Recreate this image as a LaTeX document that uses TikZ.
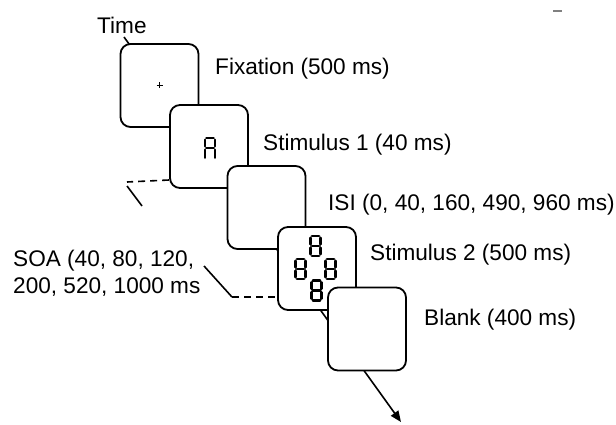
\documentclass[tikz,border=0pt]{standalone}
\usepackage{fontspec}
\setmainfont{Liberation Sans}
\usetikzlibrary{arrows.meta}

\tikzset{
  frame/.style={draw=black, line width=1.8pt, fill=white, rounded corners=10pt,
                inner sep=0pt, minimum width=78pt, minimum height=83pt},
  caption/.style={anchor=base west, inner sep=0pt, font=\fontsize{22.6}{27}\selectfont},
  seg/.style={line width=2.5pt, line cap=round},
  guide/.style={line width=1.6pt},
  guidedash/.style={line width=1.6pt, dash pattern=on 7pt off 5pt},
  % seven-segment glyphs, centred on the pic origin
  pics/seveneight/.style={code={
    \draw[seg] (-3.6,-9.8) -- (3.6,-9.8) (-3.6,0) -- (3.6,0) (-3.6,9.8) -- (3.6,9.8)
               (-5.2,-8.2) -- (-5.2,-1.7) (5.2,-8.2) -- (5.2,-1.7)
               (-5.2,1.7) -- (-5.2,8.2) (5.2,1.7) -- (5.2,8.2);}},
  pics/sevenA/.style={code={
    \draw[seg] (-3.6,-9.8) -- (3.6,-9.8) (-3.6,0) -- (3.6,0)
               (-5.2,-8.2) -- (-5.2,-1.7) (5.2,-8.2) -- (5.2,-1.7)
               (-5.2,1.7) -- (-5.2,9.8) (5.2,1.7) -- (5.2,9.8);}}
}

\begin{document}
\begin{tikzpicture}[x=1pt, y=-1pt]
\useasboundingbox (0,0) rectangle (616,425);

% time axis running behind the frames
\coordinate (tstart) at (124,37);
\coordinate (tend) at (401,422);
\draw[line width=1.6pt, -{Triangle[length=11pt,width=9pt]}] (tstart) -- (tend);

% stimulus frames, each drawn over the previous one
\node[frame] (b1) at (159.5,85.5) {};
\node[frame] (b2) at (209,146.5) {};
\node[frame] (b3) at (266.5,207.5) {};
\node[frame] (b4) at (317,268.5) {};
\node[frame] (b5) at (367,329) {};

% fixation cross
\draw[line width=0.9pt] (156.5,85.5) -- (162.5,85.5) (159.5,82.5) -- (159.5,88.5);

% stimulus 1: letter A
\pic at (210,148) {sevenA};

% stimulus 2: four eights
\pic at (315.5,246) {seveneight};
\pic at (300.5,269) {seveneight};
\pic at (330.5,269) {seveneight};
\pic at (316.5,290.5) {seveneight};

% labels
\node[caption] (time) at (97,34) {Time};
\node[caption] (lfix) at (215,75) {Fixation (500 ms)};
\node[caption] (ls1) at (263,151) {Stimulus 1 (40 ms)};
\node[caption] (lisi) at (328,210) {ISI (0, 40, 160, 490, 960 ms)};
\node[caption] (ls2) at (370,260) {Stimulus 2 (500 ms)};
\node[caption] (lblank) at (424,325) {Blank (400 ms)};
\node[caption] (lsoa1) at (13,266) {SOA (40, 80, 120,};
\node[caption] (lsoa2) at (13,293) {200, 520, 1000 ms};

% SOA markers
\coordinate (ua) at (127,182);
\coordinate (ub) at (127,186);
\coordinate (uc) at (142,206);
\draw[guidedash] (b2.west |- 0,180) -- (ua);
\draw[guide] (ub) -- (uc);
\coordinate (la) at (204,266);
\coordinate (lb) at (232,297);
\draw[guide] (la) -- (lb);
\draw[guidedash] (lb) -- (b4.west |- lb);

% short grey mark in the top right corner
\coordinate (ma) at (553,11);
\coordinate (mb) at (562,11);
\draw[gray, line width=1.5pt] (ma) -- (mb);
\end{tikzpicture}
\end{document}
